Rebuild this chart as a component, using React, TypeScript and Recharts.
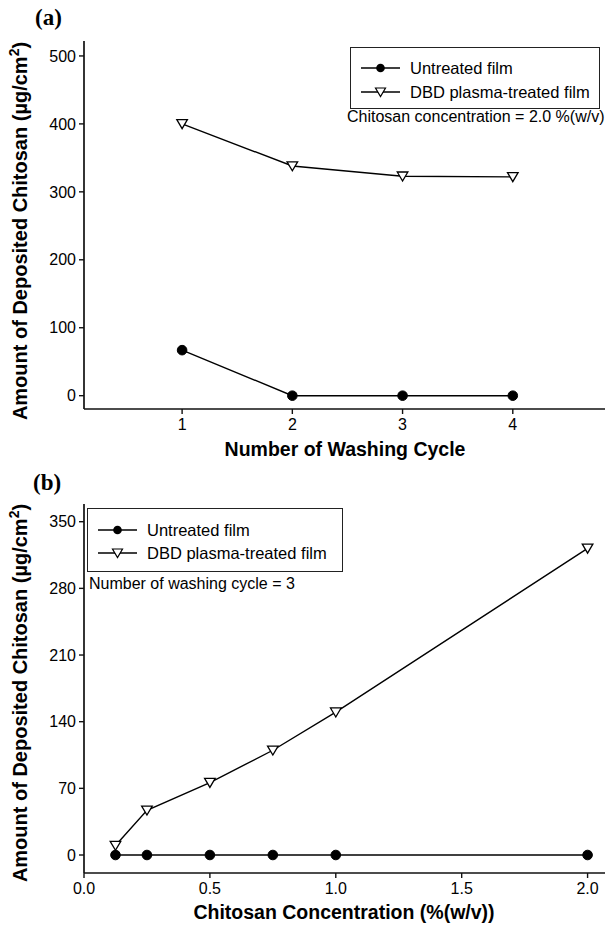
import React from 'react';
import { Line, LineChart, XAxis, YAxis } from 'recharts';

// Panel (a): deposited chitosan vs. number of washing cycles (2.0 % w/v)
const washCycles = [1, 2, 3, 4];
const untreatedByCycle = [67, 0, 0, 0];
const plasmaByCycle = [400, 338, 323, 322];
const cycleTicks = [1, 2, 3, 4];
const amountTicksA = [0, 100, 200, 300, 400, 500];

// Panel (b): deposited chitosan vs. chitosan concentration (3 washing cycles)
const concentrations = [0.125, 0.25, 0.5, 0.75, 1.0, 2.0];
const untreatedByConc = [0, 0, 0, 0, 0, 0];
const plasmaByConc = [10, 47, 76, 110, 150, 322];
const concTicks = [0, 0.5, 1.0, 1.5, 2.0];
const amountTicksB = [0, 70, 140, 210, 280, 350];

const SANS = '"Liberation Sans", Arial, sans-serif';
const SERIF = '"Liberation Serif", "Times New Roman", serif';

const dataA = washCycles.map((c, i) => ({ x: c, untreated: untreatedByCycle[i], plasma: plasmaByCycle[i] }));
const dataB = concentrations.map((c, i) => ({ x: c, untreated: untreatedByConc[i], plasma: plasmaByConc[i] }));

const tickStyle = { fill: '#000', fontSize: 16, fontFamily: SANS };
const axisLineStyle = { stroke: '#111', strokeWidth: 1.7 };
const tickLineStyle = { stroke: '#111', strokeWidth: 1.4 };

function CircleDot(props: any) {
  const { cx, cy } = props;
  if (cx == null || cy == null) return null;
  return <circle cx={cx} cy={cy} r={4.8} fill="#000" stroke="#000" />;
}

function TriangleDot(props: any) {
  const { cx, cy } = props;
  if (cx == null || cy == null) return null;
  const d = `M${cx - 5.3},${cy - 4.2} L${cx + 5.3},${cy - 4.2} L${cx},${cy + 4.8} Z`;
  return <path d={d} fill="#fff" stroke="#000" strokeWidth={1.3} />;
}

function LegendBox({ left, top, width, height, rowYs }: { left: number; top: number; width: number; height: number; rowYs: number[] }) {
  const rows = [
    { label: 'Untreated film', filled: true },
    { label: 'DBD plasma-treated film', filled: false },
  ];
  return (
    <div
      style={{
        position: 'absolute',
        left,
        top,
        width,
        height,
        border: '1.3px solid #222',
        boxSizing: 'border-box',
        background: '#fff',
      }}
    >
      {rows.map((r, i) => (
        <div key={r.label} style={{ position: 'absolute', left: 0, top: rowYs[i] - top - 10, height: 20, width: width - 4 }}>
          <svg width={44} height={20} style={{ position: 'absolute', left: 9, top: 0 }}>
            <line x1={1} y1={10} x2={40} y2={10} stroke="#000" strokeWidth={1.4} />
            {r.filled ? (
              <circle cx={20.5} cy={10} r={4.3} fill="#000" />
            ) : (
              <path d="M15.5,6 L25.5,6 L20.5,14.5 Z" fill="#fff" stroke="#000" strokeWidth={1.2} />
            )}
          </svg>
          <span
            style={{
              position: 'absolute',
              left: 59,
              top: 0,
              lineHeight: '20px',
              fontSize: 16.5,
              fontFamily: SANS,
              whiteSpace: 'nowrap',
              color: '#000',
            }}
          >
            {r.label}
          </span>
        </div>
      ))}
    </div>
  );
}

function Text({ x, y, children, size = 16, bold = false, family = SANS, rotate = false, align = 'left' }: any) {
  const transform = rotate
    ? 'translate(-50%, -50%) rotate(-90deg)'
    : align === 'center'
      ? 'translate(-50%, -50%)'
      : 'translate(0, -50%)';
  return (
    <div
      style={{
        position: 'absolute',
        left: x,
        top: y,
        transform,
        fontSize: size,
        fontWeight: bold ? 'bold' : 'normal',
        fontFamily: family,
        whiteSpace: 'nowrap',
        color: '#000',
        lineHeight: 1,
      }}
    >
      {children}
    </div>
  );
}

const yTitle = (
  <>
    Amount of Deposited Chitosan (µg/cm<sup style={{ fontSize: '0.7em', verticalAlign: '0.55em', lineHeight: 0 }}>2</sup>)
  </>
);

export default function App() {
  return (
    <div
      style={{
        position: 'absolute',
        left: 0,
        top: 0,
        width: 605,
        height: 928,
        overflow: 'hidden',
        background: '#fff',
      }}
    >
      {/* panel (a) */}
      <div style={{ position: 'absolute', left: 0, top: 0 }}>
        <LineChart width={612} height={460} data={dataA} margin={{ top: 41, right: 0, left: 24, bottom: 21 }}>
          <XAxis
            dataKey="x"
            type="number"
            domain={[0.11, 4.9]}
            ticks={cycleTicks}
            allowDataOverflow
            height={30}
            tick={tickStyle}
            tickSize={5}
            tickMargin={5}
            axisLine={axisLineStyle}
            tickLine={tickLineStyle}
          />
          <XAxis
            xAxisId="top"
            orientation="top"
            dataKey="x"
            type="number"
            domain={[0.11, 4.9]}
            height={0}
            tick={false}
            tickLine={false}
            axisLine={axisLineStyle}
          />
          <YAxis
            type="number"
            domain={[-19.6, 522]}
            ticks={amountTicksA}
            allowDataOverflow
            width={60}
            tick={tickStyle}
            tickSize={5}
            tickMargin={3}
            axisLine={axisLineStyle}
            tickLine={tickLineStyle}
          />
          <Line dataKey="untreated" stroke="#000" strokeWidth={1.4} dot={<CircleDot />} isAnimationActive={false} />
          <Line dataKey="plasma" stroke="#000" strokeWidth={1.4} dot={<TriangleDot />} isAnimationActive={false} />
        </LineChart>
      </div>

      {/* panel (b) */}
      <div style={{ position: 'absolute', left: 0, top: 460 }}>
        <LineChart width={612} height={468} data={dataB} margin={{ top: 44, right: 0, left: 24, bottom: 25 }}>
          <XAxis
            dataKey="x"
            type="number"
            domain={[0, 2.097]}
            ticks={concTicks}
            tickFormatter={(v: number) => v.toFixed(1)}
            allowDataOverflow
            height={30}
            tick={tickStyle}
            tickSize={5}
            tickMargin={5}
            axisLine={axisLineStyle}
            tickLine={tickLineStyle}
          />
          <XAxis
            xAxisId="top"
            orientation="top"
            dataKey="x"
            type="number"
            domain={[0, 2.097]}
            height={0}
            tick={false}
            tickLine={false}
            axisLine={axisLineStyle}
          />
          <YAxis
            type="number"
            domain={[-18.9, 368.6]}
            ticks={amountTicksB}
            allowDataOverflow
            width={60}
            tick={tickStyle}
            tickSize={5}
            tickMargin={3}
            axisLine={axisLineStyle}
            tickLine={tickLineStyle}
          />
          <Line dataKey="untreated" stroke="#000" strokeWidth={1.4} dot={<CircleDot />} isAnimationActive={false} />
          <Line dataKey="plasma" stroke="#000" strokeWidth={1.4} dot={<TriangleDot />} isAnimationActive={false} />
        </LineChart>
      </div>

      {/* panel letters */}
      <Text x={35} y={17} size={23} bold family={SERIF}>(a)</Text>
      <Text x={33} y={482} size={23} bold family={SERIF}>(b)</Text>

      {/* axis titles */}
      <Text x={20} y={231} size={20} bold rotate>{yTitle}</Text>
      <Text x={345} y={450} size={19.5} bold align="center">Number of Washing Cycle</Text>
      <Text x={20} y={693} size={20} bold rotate>{yTitle}</Text>
      <Text x={344} y={913} size={19.5} bold align="center">Chitosan Concentration (%(w/v))</Text>

      {/* legends and notes */}
      <LegendBox left={350} top={47} width={250} height={62} rowYs={[67, 91]} />
      <Text x={347} y={117} size={16}>Chitosan concentration = 2.0 %(w/v)</Text>
      <LegendBox left={87} top={508} width={256} height={64} rowYs={[529, 552]} />
      <Text x={89} y={584} size={16}>Number of washing cycle = 3</Text>
    </div>
  );
}
